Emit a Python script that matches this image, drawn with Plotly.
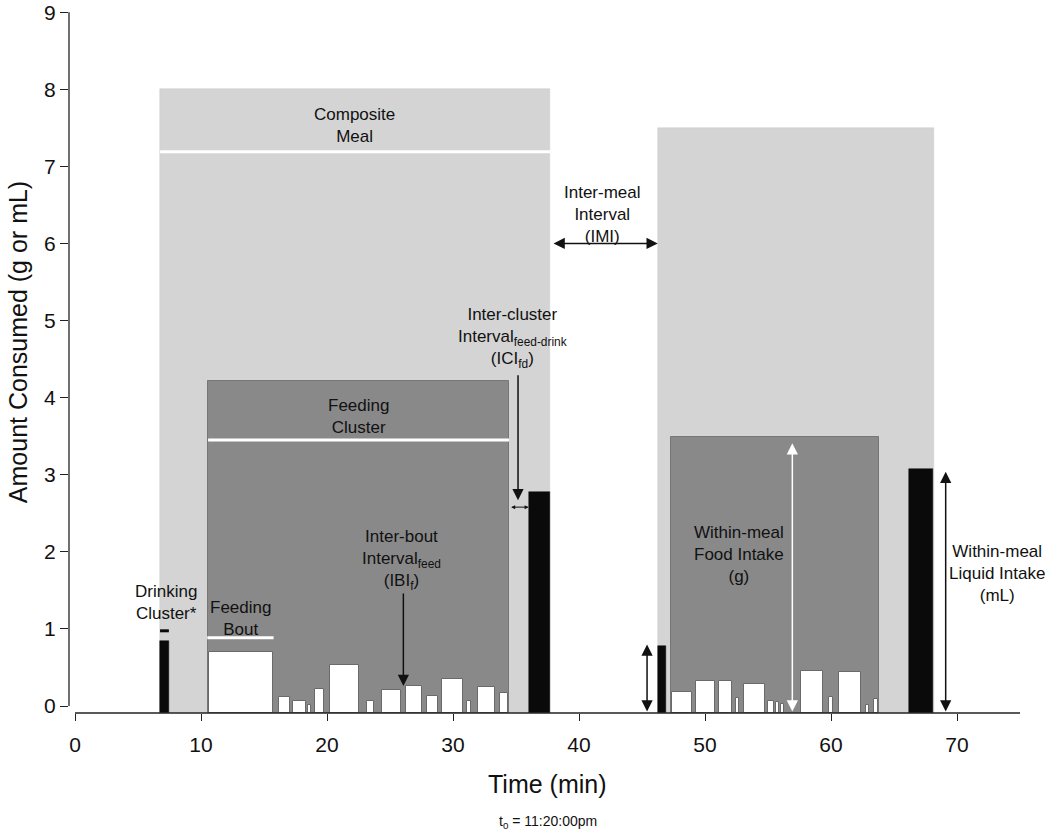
import plotly.graph_objects as go

# ---------------- data (minutes, g or mL) ----------------
FLOOR = -0.09  # level of the x-axis line (rectangles start here)

MEAL_START = [6.75, 46.3]
MEAL_END = [37.7, 68.15]
MEAL_PEAK = [8.0, 7.5]

CLUSTER_START = [10.56, 47.3]
CLUSTER_END = [34.45, 63.78]
CLUSTER_PEAK = [4.21, 3.49]

BOUT_START = [10.63, 16.2, 17.28, 18.5, 19.05, 20.2, 23.15, 24.34, 26.24, 27.9, 29.1, 31.08, 31.96, 33.7,
              47.4, 49.26, 51.14, 52.48, 53.12, 54.98, 55.66, 56.06, 57.6, 59.8, 60.66, 62.75, 63.39]
BOUT_END = [15.74, 17.06, 18.33, 18.75, 19.8, 22.56, 23.76, 25.87, 27.54, 28.8, 30.77, 31.45, 33.33, 34.34,
            48.99, 50.82, 52.17, 52.72, 54.74, 55.45, 55.9, 56.3, 59.4, 60.18, 62.38, 63.04, 63.7]
BOUT_AMOUNT = [0.70, 0.12, 0.07, 0.01, 0.225, 0.53, 0.07, 0.21, 0.26, 0.13, 0.35, 0.07, 0.25, 0.17,
               0.185, 0.32, 0.32, 0.10, 0.29, 0.07, 0.05, 0.03, 0.46, 0.12, 0.44, 0.01, 0.09]

DRINK_START = [6.75, 36.06, 46.3, 66.16]
DRINK_END = [7.43, 37.7, 46.88, 68.12]
DRINK_AMOUNT = [0.84, 2.78, 0.78, 3.08]

# white reference lines: (start, end, level)
WHITE_LINES = [(6.75, 37.7, 7.19), (10.56, 34.45, 3.45), (10.5, 15.76, 0.885)]
DRINK_MARK = (6.75, 7.45, 0.976)

X_TICKS = [0, 10, 20, 30, 40, 50, 60, 70]
Y_TICKS = [0, 1, 2, 3, 4, 5, 6, 7, 8, 9]
Y_TOP = 9.015

FONT = "Liberation Sans, Arial, sans-serif"

fig = go.Figure()


def add_rects(starts, ends, tops, fill, line_color, line_width):
    fig.add_trace(go.Bar(
        x=[(s + e) / 2 for s, e in zip(starts, ends)],
        width=[e - s for s, e in zip(starts, ends)],
        y=[t - FLOOR for t in tops],
        base=FLOOR,
        marker=dict(color=fill, line=dict(color=line_color, width=line_width)),
        showlegend=False, hoverinfo="skip"))


add_rects(MEAL_START, MEAL_END, MEAL_PEAK, "#d4d4d4", "#cccccc", 0.5)
add_rects(CLUSTER_START, CLUSTER_END, CLUSTER_PEAK, "#898989", "#767676", 1)

for s, e, lvl in WHITE_LINES:
    fig.add_trace(go.Scatter(x=[s, e], y=[lvl, lvl], mode="lines",
                             line=dict(color="white", width=3), showlegend=False, hoverinfo="skip"))

add_rects(BOUT_START, BOUT_END, BOUT_AMOUNT, "white", "#6a6a6a", 1)
add_rects(DRINK_START, DRINK_END, DRINK_AMOUNT, "#0a0a0a", "#0a0a0a", 0.5)

fig.add_trace(go.Scatter(x=[DRINK_MARK[0], DRINK_MARK[1]], y=[DRINK_MARK[2], DRINK_MARK[2]], mode="lines",
                         line=dict(color="#0a0a0a", width=3), showlegend=False, hoverinfo="skip"))

annotations = []


def arrow(x0, y0, x1, y1, color="#111111", double=False, size=1.5, width=1.5):
    annotations.append(dict(
        x=x1, y=y1, ax=x0, ay=y0, xref="x", yref="y", axref="x", ayref="y",
        text="", showarrow=True, arrowhead=2, arrowsize=size, arrowwidth=width,
        arrowcolor=color, arrowside="end+start" if double else "end",
        startarrowhead=2, startarrowsize=size, standoff=0, startstandoff=0))


arrow(37.86, 6.0, 46.25, 6.0, double=True)            # IMI
arrow(35.16, 4.31, 35.16, 2.67)                       # ICI vertical
arrow(34.5, 2.58, 36.0, 2.58, double=True, size=0.8, width=1)  # ICI small
arrow(26.06, 1.48, 26.06, 0.26)                       # IBI
arrow(56.93, FLOOR, 56.93, 3.41, color="white", double=True)   # food intake
arrow(45.4, FLOOR, 45.4, 0.80, double=True)           # small drink
arrow(69.1, FLOOR, 69.1, 3.04, double=True)           # liquid intake


def label(x, y, text, size=17):
    annotations.append(dict(x=x, y=y, xref="x", yref="y", text=text, showarrow=False,
                            font=dict(family=FONT, size=size, color="#111111"),
                            xanchor="center", yanchor="middle", align="center"))


label(22.2, 7.53, "Composite<br>Meal")
label(41.9, 6.38, "Inter-meal<br>Interval<br>(IMI)")
label(34.7, 4.77, "Inter-cluster<br>Interval<sub>feed-drink</sub><br>(ICI<sub>fd</sub>)")
label(22.46, 3.76, "Feeding<br>Cluster")
label(25.95, 1.9, "Inter-bout<br>Interval<sub>feed</sub><br>(IBI<sub>f</sub>)")
label(7.22, 1.34, "Drinking<br>Cluster*")
label(13.17, 1.14, "Feeding<br>Bout")
label(52.67, 1.96, "Within-meal<br>Food Intake<br>(g)")
label(73.2, 1.72, "Within-meal<br>Liquid Intake<br>(mL)")

# axis titles
annotations.append(dict(x=37.5, y=-0.1016, xref="x", yref="paper", text="Time (min)", showarrow=False,
                        font=dict(family=FONT, size=25, color="#111111"), xanchor="center", yanchor="middle"))
annotations.append(dict(x=37.5, y=-0.1557, xref="x", yref="paper", text="t<sub>0</sub> = 11:20:00pm",
                        showarrow=False, font=dict(family=FONT, size=14, color="#111111"),
                        xanchor="center", yanchor="middle"))
annotations.append(dict(x=-0.0529, y=4.72, xref="paper", yref="y", text="Amount Consumed (g or mL)",
                        showarrow=False, textangle=-90, font=dict(family=FONT, size=25, color="#111111"),
                        xanchor="center", yanchor="middle"))

shapes = [
    dict(type="line", xref="paper", yref="y", x0=0, x1=0, y0=0, y1=9, line=dict(color="#222222", width=1.3)),
    dict(type="line", xref="x", yref="paper", x0=0, x1=75, y0=0, y1=0, line=dict(color="#222222", width=1.3)),
]

fig.update_layout(
    width=1050, height=830,
    margin=dict(l=69, r=17.4, t=10.9, b=117.3, autoexpand=False),
    paper_bgcolor="white", plot_bgcolor="white",
    barmode="overlay", bargap=0,
    showlegend=False,
    annotations=annotations,
    shapes=shapes,
    font=dict(family=FONT, color="#111111"),
    xaxis=dict(range=[-0.476, 76.03], showgrid=False, zeroline=False, showline=False, automargin=False,
               tickmode="array", tickvals=X_TICKS, ticks="outside", ticklen=7, tickwidth=1.3,
               tickcolor="#222222", tickfont=dict(family=FONT, size=21, color="#111111"),
               ticklabelstandoff=6),
    yaxis=dict(range=[FLOOR, Y_TOP], showgrid=False, zeroline=False, showline=False, automargin=False,
               tickmode="array", tickvals=Y_TICKS, ticks="outside", ticklen=8, tickwidth=1.3,
               tickcolor="#222222", tickfont=dict(family=FONT, size=21, color="#111111"),
               ticklabeloverflow="allow"),
)

# drop the page's default 8px body margin so the 1050x830 figure fills the window exactly
fig.write_html("out.html", config={"displayModeBar": False},
               post_script="document.body.style.margin='0px';")
